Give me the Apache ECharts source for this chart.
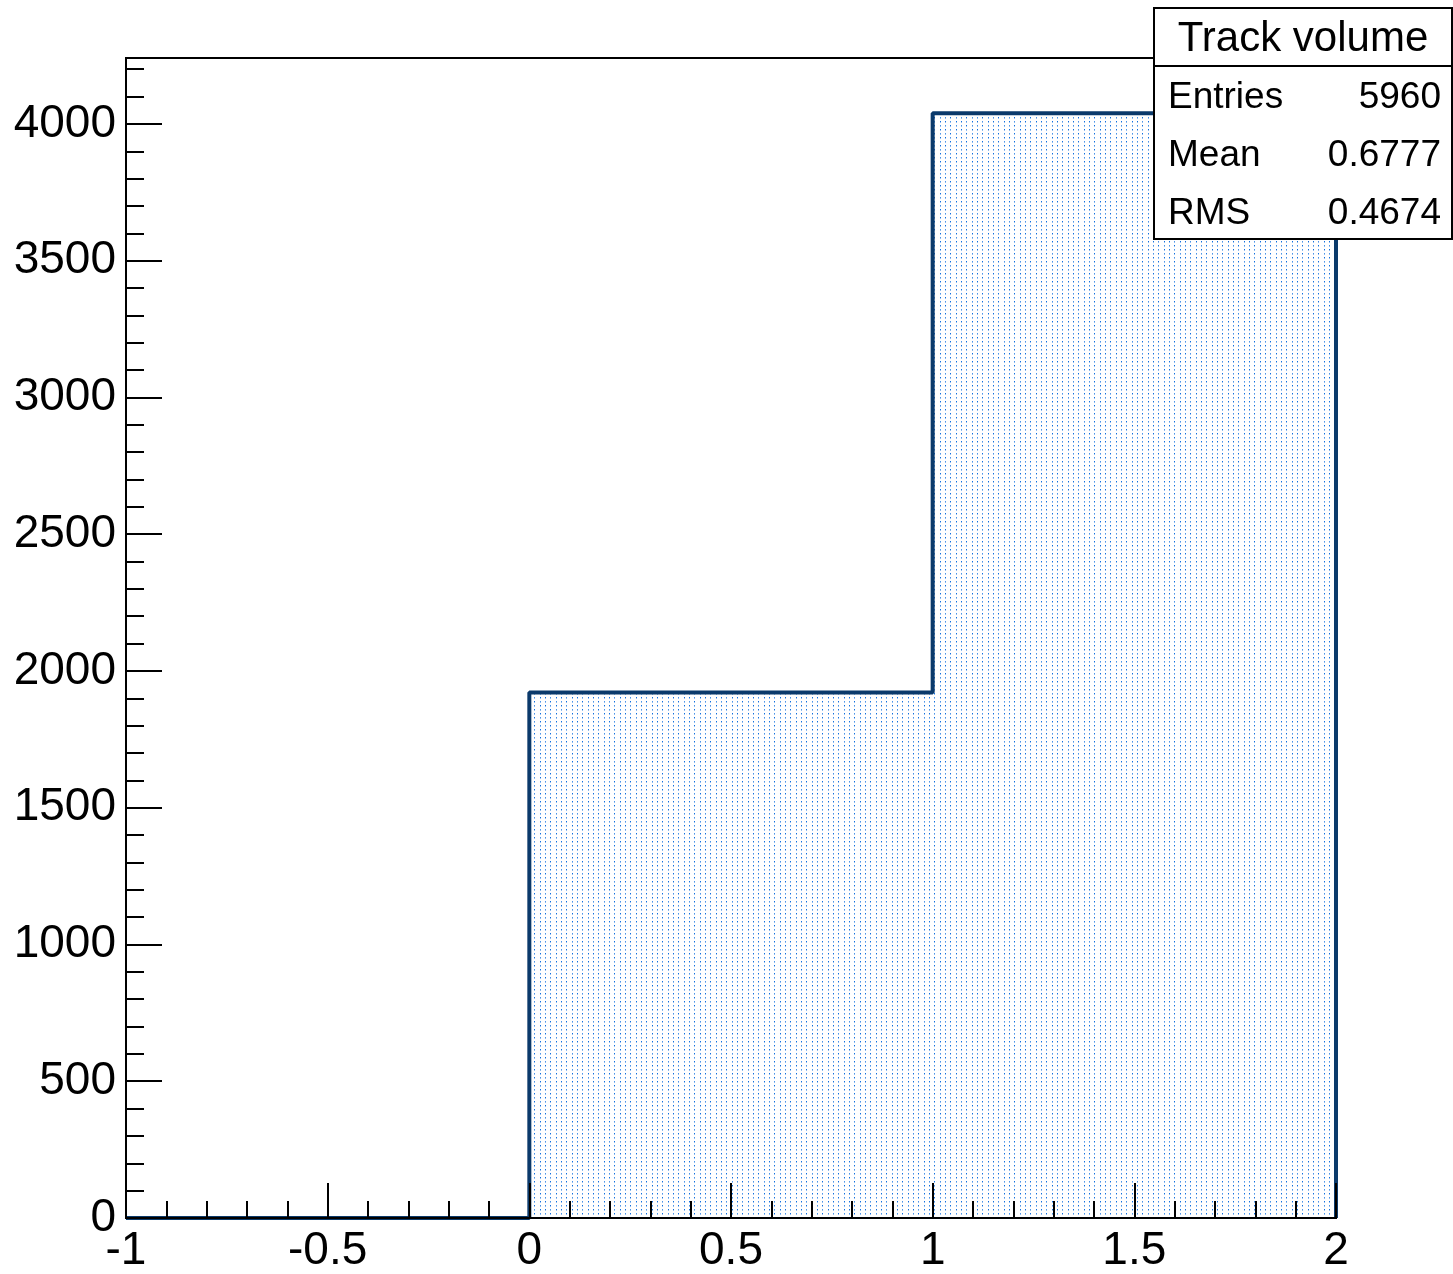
<!DOCTYPE html>
<html>
<head>
<meta charset="utf-8">
<script src="https://cdn.jsdelivr.net/npm/echarts@6/dist/echarts.min.js"></script>
<style>
html,body{margin:0;padding:0;background:#fff;}
#chart{width:1453px;height:1274px;}
</style>
</head>
<body>
<div id="chart"></div>
<script>
// Histogram "Track volume"
var binEdges = [-1, 0, 1, 2];
var binCounts = [0, 1921, 4039];
var xTicks = ['-1', '-0.5', '0', '0.5', '1', '1.5', '2'];
var statTitle = 'Track volume';
var statNames = ['Entries', 'Mean', 'RMS'];
var statValues = ['5960', '0.6777', '0.4674'];

var FONT = '"Liberation Sans", Arial, Helvetica, sans-serif';
var LINE = '#0b3a6b';

// dotted fill pattern
var tile = document.createElement('canvas');
tile.width = 16; tile.height = 8;
var tc = tile.getContext('2d');
tc.fillStyle = '#ffffff';
tc.fillRect(0, 0, 16, 8);
var xs = [1, 6, 12];
for (var r = 0; r < 2; r++) {
  for (var k = 0; k < xs.length; k++) {
    tc.fillStyle = ((k + r) % 2 === 0) ? '#0f6fe0' : '#4a95ea';
    tc.fillRect(xs[k], r * 4 + 1, 1, 1);
    tc.fillStyle = 'rgba(100,160,230,0.7)';
    tc.fillRect(xs[k], r * 4 + 2, 1, 1);
  }
}

var pts = [];
for (var i = 0; i < binCounts.length; i++) pts.push([binEdges[i], binCounts[i]]);
pts.push([binEdges[binEdges.length - 1], 0]);

var yMax = Math.max.apply(null, binCounts) * 1.05;

var chart = echarts.init(document.getElementById('chart'), null, {renderer: 'canvas'});

var boxL = 1154, boxR = 1452, boxT = 8, boxSep = 66, boxB = 239;
var graphics = [
  {type: 'rect', shape: {x: boxL, y: boxT, width: boxR - boxL, height: boxB - boxT},
   style: {fill: '#fff', stroke: '#000', lineWidth: 2}, z: 100},
  {type: 'line', shape: {x1: boxL, y1: boxSep, x2: boxR, y2: boxSep},
   style: {stroke: '#000', lineWidth: 2}, z: 101},
  {type: 'text', x: (boxL + boxR) / 2, y: (boxT + boxSep) / 2 + 2,
   style: {text: statTitle, font: '42px ' + FONT, fill: '#000', align: 'center', verticalAlign: 'middle'}, z: 101}
];
var rowY = [98, 156, 214];
for (var j = 0; j < statNames.length; j++) {
  graphics.push({type: 'text', x: 1168, y: rowY[j],
    style: {text: statNames[j], font: '37px ' + FONT, fill: '#000', align: 'left', verticalAlign: 'middle'}, z: 101});
  graphics.push({type: 'text', x: 1441, y: rowY[j],
    style: {text: statValues[j], font: '37px ' + FONT, fill: '#000', align: 'right', verticalAlign: 'middle'}, z: 101});
}

chart.setOption({
  animation: false,
  backgroundColor: '#fff',
  grid: {left: 126, top: 58, right: 117, bottom: 55, show: true, borderColor: '#000', borderWidth: 2, containLabel: false, z: 0},
  xAxis: {
    type: 'value', min: -1, max: 2, interval: 0.5, z: 10,
    axisLine: {show: true, onZero: false, lineStyle: {color: '#000', width: 2}},
    axisTick: {show: true, inside: true, length: 35, lineStyle: {color: '#000', width: 2}},
    minorTick: {show: true, splitNumber: 5, length: 17, lineStyle: {color: '#000', width: 2}},
    splitLine: {show: false},
    axisLabel: {fontFamily: FONT, fontSize: 46, color: '#000', margin: 10,
      formatter: function (v) { var s = String(Math.round(v * 10) / 10); return xTicks.indexOf(s) >= 0 ? s : ''; }}
  },
  yAxis: {
    type: 'value', min: 0, max: yMax, interval: 500, z: 10,
    axisLine: {show: true, onZero: false, lineStyle: {color: '#000', width: 2}},
    axisTick: {show: true, inside: true, length: 36, lineStyle: {color: '#000', width: 2}},
    minorTick: {show: true, splitNumber: 5, length: 18, lineStyle: {color: '#000', width: 2}},
    splitLine: {show: false},
    axisLabel: {fontFamily: FONT, fontSize: 46, color: '#000', margin: 10, showMaxLabel: false,
      formatter: function (v) { return String(Math.round(v)); }}
  },
  series: [{
    type: 'line', step: 'end', data: pts, symbol: 'none', z: 2,
    lineStyle: {color: LINE, width: 4},
    areaStyle: {color: {image: tile, repeat: 'repeat'}, opacity: 1}
  }],
  graphic: graphics
});
</script>
</body>
</html>
